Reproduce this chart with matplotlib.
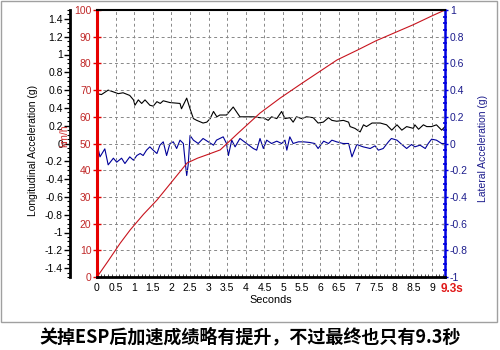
import matplotlib
matplotlib.use("Agg")
import matplotlib.pyplot as plt
from matplotlib.ticker import MultipleLocator
from matplotlib.patches import Rectangle

plt.rcParams["font.family"] = ["Liberation Sans", "DejaVu Sans"]

# speed (km/h)
speed_t = [0, 0.3, 0.62, 0.89, 1.25, 1.61, 2.0, 2.42, 2.7, 3.0, 3.31, 3.8, 4.38,
           4.92, 5.5, 6.45, 7.0, 7.5, 8.0, 8.5, 9.0, 9.35]
speed_v = [0, 6, 12.6, 17.6, 23.5, 28.8, 35.5, 42.7, 44.5, 46, 47.6, 54, 61.4,
           67, 72.5, 81.3, 85, 88.5, 91.5, 94.5, 97.8, 100]

# longitudinal acceleration (g)
lon_t = [0, 0.12, 0.30, 0.44, 0.57, 0.70, 0.88, 0.98, 1.02, 1.11, 1.20, 1.29, 1.42,
         1.51, 1.61, 1.70, 1.78, 1.96, 2.23, 2.27, 2.41, 2.50, 2.59, 2.68, 2.85,
         2.95, 3.04, 3.13, 3.22, 3.30, 3.48, 3.66, 3.84, 4.20, 4.38, 4.47, 4.60,
         4.69, 4.83, 4.96, 5.05, 5.18, 5.27, 5.36, 5.50, 5.63, 5.81, 5.94, 6.08,
         6.22, 6.31, 6.44, 6.62, 6.76, 6.80, 6.93, 7.07, 7.16, 7.24, 7.39, 7.61,
         7.78, 7.92, 8.06, 8.19, 8.32, 8.50, 8.54, 8.64, 8.77, 8.86, 8.99, 9.12,
         9.26, 9.35]
lon_g = [0.56, 0.55, 0.60, 0.58, 0.56, 0.57, 0.54, 0.49, 0.43, 0.49, 0.45, 0.49, 0.43,
         0.42, 0.47, 0.45, 0.48, 0.46, 0.45, 0.39, 0.51, 0.39, 0.28, 0.26, 0.23,
         0.24, 0.28, 0.36, 0.30, 0.32, 0.32, 0.41, 0.30, 0.30, 0.29, 0.29, 0.26,
         0.30, 0.28, 0.36, 0.28, 0.29, 0.24, 0.30, 0.28, 0.30, 0.29, 0.23, 0.24,
         0.29, 0.26, 0.25, 0.26, 0.24, 0.19, 0.17, 0.13, 0.21, 0.19, 0.23, 0.23,
         0.21, 0.15, 0.21, 0.15, 0.19, 0.17, 0.21, 0.16, 0.21, 0.19, 0.19, 0.21,
         0.15, 0.19]

# lateral acceleration (g)
lat_t = [0, 0.08, 0.21, 0.30, 0.44, 0.53, 0.66, 0.75, 0.88, 0.98, 1.07, 1.16, 1.24,
         1.33, 1.42, 1.51, 1.61, 1.69, 1.78, 1.87, 1.96, 2.05, 2.14, 2.23, 2.32,
         2.37, 2.41, 2.45, 2.50, 2.59, 2.72, 2.85, 2.99, 3.13, 3.21, 3.39, 3.48,
         3.53, 3.62, 3.71, 3.84, 4.02, 4.20, 4.29, 4.38, 4.47, 4.56, 4.69, 4.83,
         4.96, 5.05, 5.10, 5.18, 5.27, 5.41, 5.55, 5.72, 5.85, 5.94, 6.09, 6.22,
         6.31, 6.44, 6.61, 6.76, 6.85, 6.98, 7.15, 7.34, 7.47, 7.56, 7.69, 7.83,
         7.91, 8.06, 8.19, 8.32, 8.45, 8.54, 8.68, 8.82, 8.90, 8.99, 9.12, 9.26, 9.35]
lat_g = [0, -0.10, -0.04, -0.16, -0.11, -0.14, -0.11, -0.15, -0.10, -0.125, -0.09, -0.075, -0.09,
         -0.05, -0.025, -0.05, -0.075, -0.0125, 0.0125, -0.09, 0.0, 0.0125, -0.0375, 0.025, 0.0,
         -0.14, -0.24, -0.16, 0.06, 0.025, 0.0, 0.0375, 0.0125, -0.0125, 0.025, 0.05, 0.0,
         -0.09, 0.025, -0.025, 0.0375, 0.0, -0.0375, -0.05, 0.0375, -0.0375, 0.025, 0.0, 0.0175,
         0.0, 0.025, -0.05, 0.05, 0.0, 0.0125, 0.0125, 0.0075, 0.0, -0.0375, 0.0175, 0.0,
         0.025, 0.0125, 0.0, 0.0, -0.10, -0.0075, -0.025, -0.0375, -0.0175, -0.05, -0.0375, 0.0125,
         0.0375, 0.025, -0.0075, -0.0375, -0.0075, -0.025, -0.0125, -0.0375, 0.0, 0.0325, 0.025, 0.0, 0.0]

x_ticks = [0, 0.5, 1, 1.5, 2, 2.5, 3, 3.5, 4, 4.5, 5, 5.5, 6, 6.5, 7, 7.5, 8, 8.5, 9]
x_labels = ["0", "0.5", "1", "1.5", "2", "2.5", "3", "3.5", "4", "4.5", "5", "5.5",
            "6", "6.5", "7", "7.5", "8", "8.5", "9"]
end_label = "9.3s"
caption = "关掉ESP后加速成绩略有提升，不过最终也只有9.3秒"

fig = plt.figure(figsize=(5, 3.5), dpi=100)
ax = fig.add_axes([97 / 500, 1 - 277 / 350, 348 / 500, 267 / 350])
ax.set_zorder(3)
ax.patch.set_visible(False)

red_lbl = "#c02828"
blue_lbl = "#1c1c8c"

# km/h axis (main)
ax.plot(speed_t, speed_v, color="#c8141e", lw=0.8)
ax.set_xlim(0, 9.35)
ax.set_ylim(0, 100)
ax.yaxis.set_major_locator(MultipleLocator(10))
ax.set_xticks(x_ticks)
ax.set_xticklabels(x_labels, fontsize=7.5)
ax.tick_params(axis="x", length=0, pad=4)
ax.xaxis.set_minor_locator(MultipleLocator(0.1))
ax.tick_params(axis="x", which="minor", direction="in", length=2, color="#333333")
ax.tick_params(axis="y", direction="inout", length=6, width=1, color="#e00000",
               labelcolor=red_lbl, labelsize=7.5, pad=1)
ax.spines["left"].set_color("#e80000")
ax.spines["left"].set_linewidth(2.2)
ax.spines["right"].set_visible(False)
ax.spines["top"].set_linewidth(1.5)
ax.spines["bottom"].set_linewidth(2)
ax.grid(True, color="#888888", ls=(0, (3, 3)), lw=0.7)
ax.set_xlabel("Seconds", fontsize=7.8, labelpad=2)
# final time marker at the right end of the time axis
ax.annotate(end_label, xy=(1, 0), xycoords="axes fraction", xytext=(5, -4),
            textcoords="offset points", ha="center", va="top", fontsize=8.5,
            fontweight="bold", color="#e01818")

# longitudinal acceleration axis (outer left)
axl = ax.twinx()
axl.set_zorder(2)
axl.plot(lon_t, lon_g, color="black", lw=0.8)
axl.set_ylim(-1.5, 1.5)
axl.yaxis.set_ticks_position("left")
axl.spines["left"].set_position(("outward", 19.5))
axl.spines["left"].set_visible(True)
axl.spines["left"].set_linewidth(2)
for s in ["right", "top", "bottom"]:
    axl.spines[s].set_visible(False)
axl.yaxis.set_minor_locator(MultipleLocator(0.05))
axl.set_yticks([-1.4, -1.2, -1, -0.8, -0.6, -0.4, -0.2, 0, 0.2, 0.4, 0.6, 0.8, 1, 1.2, 1.4])
axl.set_yticklabels(["-1.4", "-1.2", "-1", "-0.8", "-0.6", "-0.4", "-0.2", "0", "0.2",
                     "0.4", "0.6", "0.8", "1", "1.2", "1.4"])
axl.tick_params(axis="y", which="major", length=4, width=1, labelsize=7.5, pad=1)
axl.tick_params(axis="y", which="minor", length=2, width=0.8)

# lateral acceleration axis (right)
axr = ax.twinx()
axr.set_zorder(2)
axr.plot(lat_t, lat_g, color="#000099", lw=0.8)
axr.set_ylim(-1, 1)
axr.yaxis.set_minor_locator(MultipleLocator(0.05))
axr.set_yticks([-1, -0.8, -0.6, -0.4, -0.2, 0, 0.2, 0.4, 0.6, 0.8, 1])
axr.set_yticklabels(["-1", "-0.8", "-0.6", "-0.4", "-0.2", "0", "0.2", "0.4", "0.6", "0.8", "1"])
axr.spines["right"].set_color("#0000e0")
axr.spines["right"].set_linewidth(1.8)
for s in ["left", "top", "bottom"]:
    axr.spines[s].set_visible(False)
axr.tick_params(axis="y", which="major", direction="inout", length=5, width=1,
                color="#0000e0", labelcolor=blue_lbl, labelsize=7.5, pad=1)
axr.tick_params(axis="y", which="minor", direction="inout", length=3, width=1.2,
                color="#0000e0")

# axis titles
fig.text(33 / 500, 1 - 150 / 350, "Longitudinal Acceleration (g)", rotation=90,
         ha="center", va="center", fontsize=7.5)
fig.text(64 / 500, 1 - 136 / 350, "km/h", rotation=90, ha="center", va="center",
         fontsize=7.5, color="#d03030")
fig.text(483 / 500, 1 - 148 / 350, "Lateral Acceleration (g)", rotation=90,
         ha="center", va="center", fontsize=7.5, color=blue_lbl)

# frame and caption
fig.patches.append(Rectangle((0.5 / 500, 1 - 322 / 350), 496.5 / 500, 321.5 / 350,
                             transform=fig.transFigure, fill=False, ec="#a0a0a0", lw=1))
fig.text(0.5, 1 - 337 / 350, caption, ha="center", va="center", fontsize=13,
         fontweight="bold", family=["Noto Sans CJK SC", "DejaVu Sans"])

fig.savefig("out.png", dpi=100)
